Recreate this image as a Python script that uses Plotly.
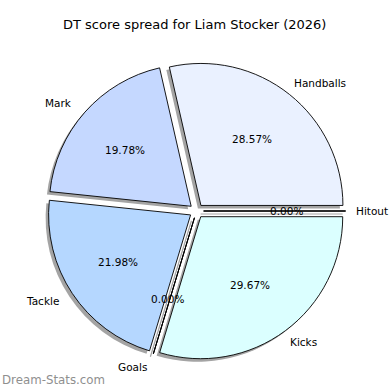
import math
import plotly.graph_objects as go

# ---- data ----
labels = ["Handballs", "Mark", "Tackle", "Goals", "Kicks", "Hitout"]
values = [26, 18, 20, 0, 27, 0]
colors = ["#EAF1FF", "#C5D8FF", "#B5D7FF", "#A8C8F0", "#DBFFFF", "#D0E4FF"]
title = "DT score spread for Liam Stocker (2026)"
watermark = "Dream-Stats.com"

# ---- layout constants (pixels) ----
W = H = 390
CX, CY, R = 193.0, 211.0, 142.0   # text centre
PX = 196.5                          # pie drawing centre x
PULL = 0.05
SH = 3.0  # shadow offset (left / down)
FONT = "DejaVu Sans"

half = R * (1 + PULL)
total = sum(values)
# plotly ccw: first slice lies clockwise of `rotation`; start first slice at 3 o'clock
ROT = 90 - 360.0 * values[0] / total


def dom(cx, cy):
    return dict(x=[(cx - half) / W, (cx + half) / W],
                y=[1 - (cy + half) / H, 1 - (cy - half) / H])


fig = go.Figure()

# shadow pie
fig.add_trace(go.Pie(
    labels=labels, values=values, sort=False, direction="counterclockwise",
    rotation=ROT, pull=[PULL] * len(values), textinfo="none", hoverinfo="skip",
    marker=dict(colors=["#a4a4a4"] * len(values), line=dict(width=0)),
    domain=dom(PX - SH, CY + SH), showlegend=False,
))
# main pie
fig.add_trace(go.Pie(
    labels=labels, values=values, sort=False, direction="counterclockwise",
    rotation=ROT, pull=[PULL] * len(values), textinfo="none",
    marker=dict(colors=colors, line=dict(color="black", width=0.9)),
    domain=dom(PX, CY), showlegend=False,
))

annotations = []
shapes = []
cum = 0.0
for lab, v in zip(labels, values):
    a0 = cum / total * 2 * math.pi
    cum += v
    a1 = cum / total * 2 * math.pi
    mid = (a0 + a1) / 2
    c, s = math.cos(mid), math.sin(mid)
    rp = (0.6 + PULL) * R
    annotations.append(dict(
        x=(CX + 1.5 + rp * c) / W, y=1 - (CY - rp * s) / H, xref="paper", yref="paper",
        text=f"{v / total * 100:.2f}%", showarrow=False,
        xanchor="center", yanchor="middle",
        font=dict(family=FONT, size=10.5, color="black")))
    rl = (1.1 + PULL) * R
    dx = -2.5 if c >= 0 else 3.5
    annotations.append(dict(
        x=(CX + dx + rl * c) / W, y=1 - (CY - rl * s) / H, xref="paper", yref="paper",
        text=lab, showarrow=False,
        xanchor="left" if c >= 0 else "right", yanchor="middle",
        font=dict(family=FONT, size=10.5, color="black")))
    if v == 0:
        ox, oy = PX + PULL * R * c, CY - PULL * R * s
        ex, ey = ox + R * c, oy - R * s
        shapes.append(dict(type="line", xref="paper", yref="paper",
                           x0=(ox - SH) / W, y0=1 - (oy + SH) / H,
                           x1=(ex - SH) / W, y1=1 - (ey + SH) / H,
                           line=dict(color="#a4a4a4", width=1.2)))
        shapes.append(dict(type="line", xref="paper", yref="paper",
                           x0=ox / W, y0=1 - oy / H, x1=ex / W, y1=1 - ey / H,
                           line=dict(color="black", width=0.9)))

annotations.append(dict(
    x=194.5 / W, y=1 - 25 / H, xref="paper", yref="paper", text=title,
    showarrow=False, xanchor="center", yanchor="middle",
    font=dict(family=FONT, size=13, color="black")))
annotations.append(dict(
    x=0, y=1 - 380 / H, xref="paper", yref="paper", text=watermark,
    showarrow=False, xanchor="left", yanchor="middle",
    font=dict(family=FONT, size=11.8, color="#8f8f8f")))

fig.update_layout(
    width=W, height=H, margin=dict(l=0, r=0, t=0, b=0),
    paper_bgcolor="white", plot_bgcolor="white",
    annotations=annotations, shapes=shapes,
)

fig.write_html("out.html", config={"displayModeBar": False},
               post_script="document.body.style.margin='0';document.body.style.overflow='hidden';")
